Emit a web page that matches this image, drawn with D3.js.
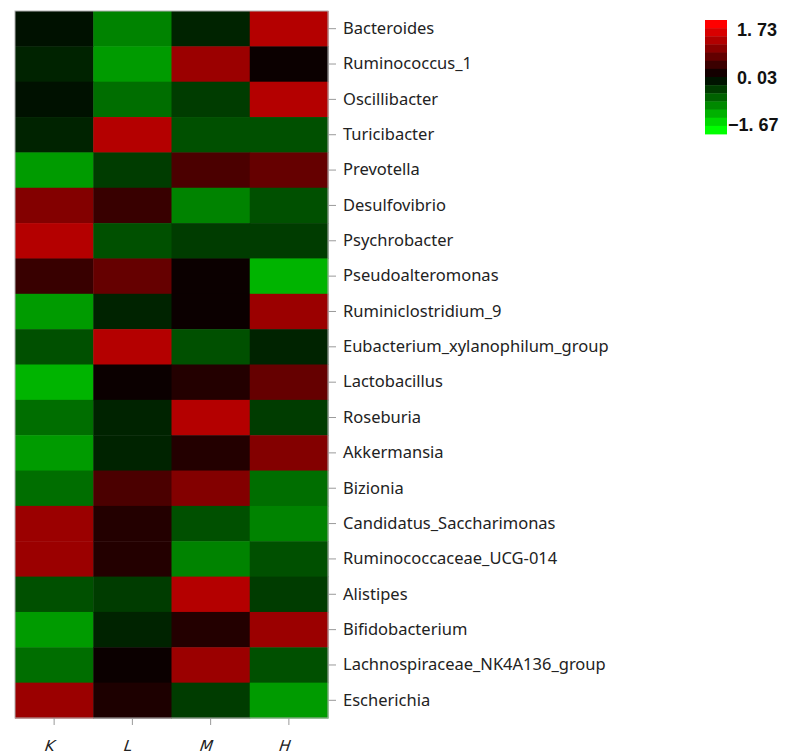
<!DOCTYPE html>
<html>
<head>
<meta charset="utf-8">
<script src="https://cdn.jsdelivr.net/npm/d3@7"></script>
<style>
  html, body { margin: 0; padding: 0; background: #fff; }
  svg { display: block; }
</style>
</head>
<body>
<svg id="chart" width="794" height="754"></svg>
<script>
// Genera (rows, top to bottom) and sample groups (columns)
const genera = [
  "Bacteroides", "Ruminococcus_1", "Oscillibacter", "Turicibacter", "Prevotella",
  "Desulfovibrio", "Psychrobacter", "Pseudoalteromonas", "Ruminiclostridium_9",
  "Eubacterium_xylanophilum_group", "Lactobacillus", "Roseburia", "Akkermansia",
  "Bizionia", "Candidatus_Saccharimonas", "Ruminococcaceae_UCG-014", "Alistipes",
  "Bifidobacterium", "Lachnospiraceae_NK4A136_group", "Escherichia"
];
const groups = ["K", "L", "M", "H"];

// Row-scaled abundance (z-score) per group
const valuesK = [-0.08, -0.20, -0.08, -0.20, -1.00, 0.90, 1.23, 0.40, -1.00, -0.50,
                 -1.17, -0.70, -1.00, -0.70, 1.06, 1.06, -0.50, -1.00, -0.70, 1.06];
const valuesL = [-0.84, -1.00, -0.70, 1.23, -0.37, 0.40, -0.50, 0.70, -0.20, 1.23,
                 0.10, -0.20, -0.20, 0.53, 0.26, 0.26, -0.37, -0.20, 0.10, 0.22];
const valuesM = [-0.20, 1.06, -0.37, -0.50, 0.53, -0.84, -0.37, 0.10, 0.10, -0.50,
                 0.26, 1.23, 0.26, 0.90, -0.50, -0.84, 1.23, 0.26, 1.06, -0.37];
const valuesH = [1.23, 0.10, 1.23, -0.50, 0.70, -0.50, -0.37, -1.17, 1.06, -0.20,
                 0.70, -0.37, 0.90, -0.70, -0.84, -0.50, -0.37, 1.06, -0.50, -1.00];

// Colour key
const keyMin = -1.67, keyMid = 0.03, keyMax = 1.73;
const keyTicks = [1.73, 0.03, -1.67];
const keyTickLabels = ["1. 73", "0. 03", "\u22121. 67"];
const keySteps = 14;

const columns = [valuesK, valuesL, valuesM, valuesH];
const cells = [];
genera.forEach((g, i) => {
  groups.forEach((c, j) => cells.push({ genus: g, group: c, value: columns[j][i] }));
});

const svg = d3.select("#chart");

const x = d3.scaleBand().domain(groups).range([15, 328]);
const y = d3.scaleBand().domain(genera).range([11, 718]);

const color = d3.scaleLinear()
  .domain([keyMin, keyMid, keyMax])
  .range(["#00ff00", "#000000", "#ff0000"])
  .clamp(true);

// Heatmap cells
svg.append("g")
  .selectAll("rect")
  .data(cells)
  .join("rect")
  .attr("x", d => x(d.group))
  .attr("y", d => y(d.genus))
  .attr("width", x.bandwidth() + 0.5)
  .attr("height", y.bandwidth() + 0.5)
  .attr("fill", d => color(d.value));

// Frame
svg.append("rect")
  .attr("x", x.range()[0])
  .attr("y", y.range()[0])
  .attr("width", x.range()[1] - x.range()[0])
  .attr("height", y.range()[1] - y.range()[0])
  .attr("fill", "none")
  .attr("stroke", "#b0b0b0")
  .attr("stroke-width", 1);

// Row labels on the right
const yAxis = svg.append("g")
  .attr("transform", `translate(${x.range()[1]},0)`)
  .call(d3.axisRight(y).tickSize(8).tickPadding(7));
yAxis.select(".domain").remove();
yAxis.selectAll(".tick line").attr("stroke", "#9a9a9a");
yAxis.selectAll(".tick text")
  .attr("fill", "#222")
  .style("font-family", "'Noto Sans', 'Open Sans', sans-serif")
  .style("font-size", "16.5px");

// Group labels along the bottom
const xAxis = svg.append("g")
  .attr("transform", `translate(0,${y.range()[1]})`)
  .call(d3.axisBottom(x).tickSize(7).tickPadding(15));
xAxis.select(".domain").remove();
xAxis.selectAll(".tick line").attr("stroke", "#9a9a9a");
xAxis.selectAll(".tick text")
  .attr("fill", "#222")
  .style("font-family", "'DejaVu Sans', sans-serif")
  .style("font-style", "italic")
  .style("font-size", "15px")
  .attr("transform", "skewX(-8)");

// Colour key
const keyTop = 20, keyBottom = 134, keyLeft = 705, keyWidth = 22;
const stepH = (keyBottom - keyTop) / keySteps;
const keyStops = d3.range(keySteps).map(i => keyMax - (keyMax - keyMin) * i / (keySteps - 1));
const key = svg.append("g");
key.selectAll("rect")
  .data(keyStops)
  .join("rect")
  .attr("x", keyLeft)
  .attr("y", (d, i) => keyTop + i * stepH)
  .attr("width", keyWidth)
  .attr("height", stepH + 0.4)
  .attr("fill", d => color(d));

const keyY = d3.scaleLinear().domain([keyMin, keyMax]).range([125, 30]);
key.selectAll("text")
  .data(keyTicks)
  .join("text")
  .attr("x", (d, i) => keyTickLabels[i].startsWith("\u2212") ? 728 : 737)
  .attr("y", d => keyY(d))
  .attr("dy", "0.36em")
  .attr("fill", "#111")
  .style("font-family", "'Liberation Sans', Arial, sans-serif")
  .style("font-size", "18px")
  .style("font-weight", "bold")
  .text((d, i) => keyTickLabels[i]);
</script>
</body>
</html>
